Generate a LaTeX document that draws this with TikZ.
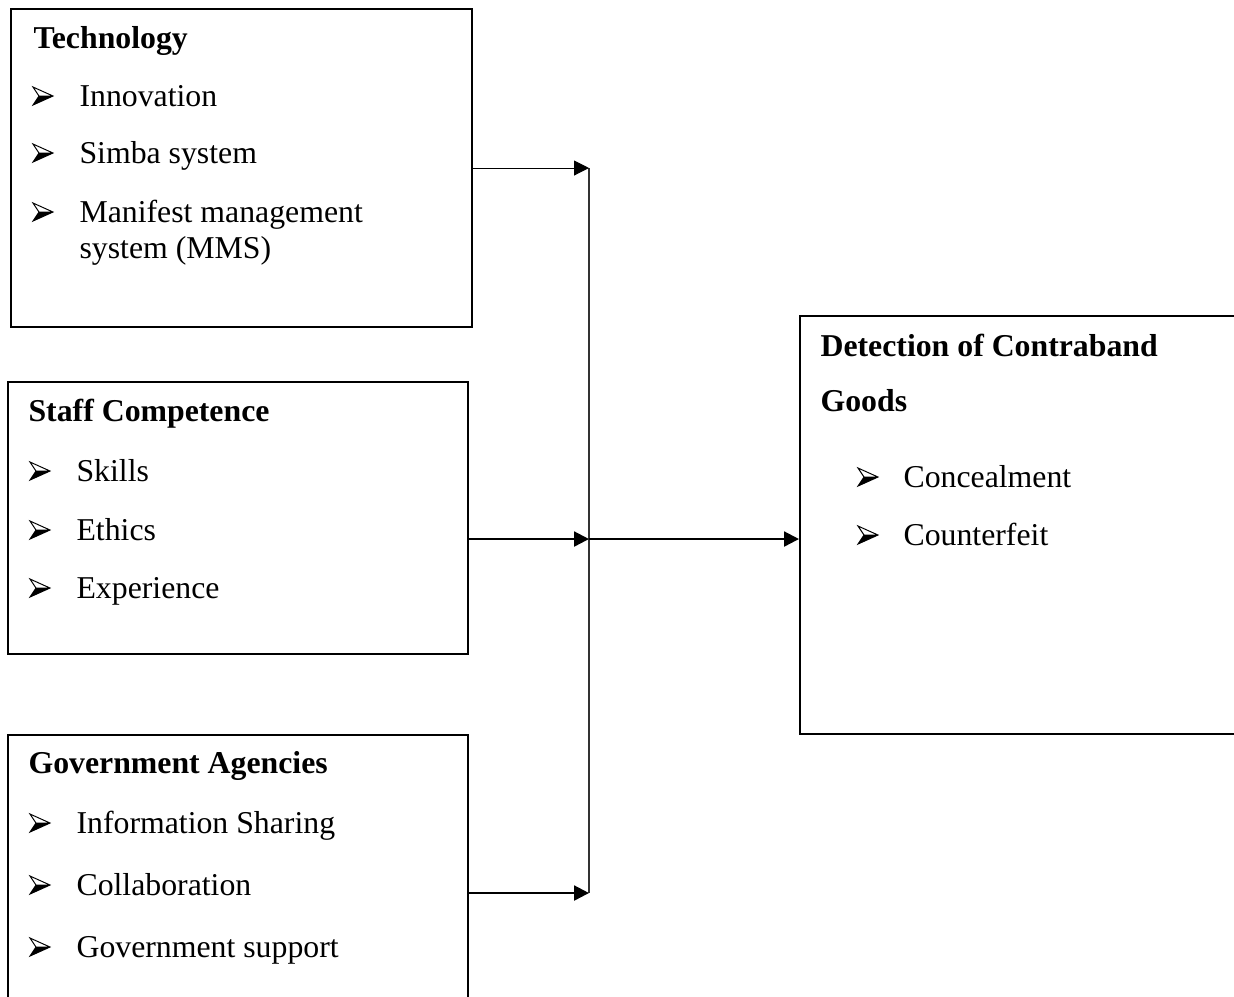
\documentclass[tikz,border=0pt]{standalone}
\usepackage{fontspec}
\setmainfont{Liberation Serif}
\usetikzlibrary{arrows.meta, positioning, calc}

\begin{document}
\begin{tikzpicture}[x=0.0125cm, y=-0.0125cm,
    box/.style={draw, line width=0.7pt, rectangle, anchor=north west, inner sep=0pt},
    head/.style={anchor=base west, inner sep=0pt, font=\fontsize{11.3}{14}\selectfont\bfseries},
    item/.style={anchor=base west, inner sep=0pt, font=\fontsize{11.3}{14}\selectfont},
    bul/.pic={
      \fill (1,-1) -- (21,-10) -- (7,-10) -- cycle;
      \draw[line width=0.35pt, line join=miter] (1,-19) -- (21,-10) -- (1,-1) -- (7,-10) -- cycle (7,-10) -- (21,-10);
    },
    arr/.style={-{Triangle[length=5.3pt, width=5.3pt]}}]
    \useasboundingbox (0,0) rectangle (1234,996);

    % boxes
    \node[box, minimum width=461*0.0125cm, minimum height=318*0.0125cm] (tech) at (10,8) {};
    \node[box, minimum width=460*0.0125cm, minimum height=272*0.0125cm] (staff) at (7,381) {};
    \node[box, minimum width=460*0.0125cm, minimum height=300*0.0125cm] (gov) at (7,734) {};
    \node[box, minimum width=480*0.0125cm, minimum height=418*0.0125cm] (detect) at (799,315) {};

    % technology
    \node[head] (techhead) at (33,48) {Technology};
    \pic (tb1) at (32,106) {bul};
    \node[item] (ti1) at (79,106) {Innovation};
    \pic (tb2) at (32,163) {bul};
    \node[item] (ti2) at (79,163) {Simba system};
    \pic (tb3) at (32,222) {bul};
    \node[item] (ti3) at (79,222) {Manifest management};
    \node[item] (ti3b) at (79,258) {system (MMS)};

    % staff competence
    \node[head] (staffhead) at (28,421) {Staff Competence};
    \pic (sb1) at (29,481) {bul};
    \node[item] (si1) at (76,481) {Skills};
    \pic (sb2) at (29,540) {bul};
    \node[item] (si2) at (76,540) {Ethics};
    \pic (sb3) at (29,598) {bul};
    \node[item] (si3) at (76,598) {Experience};

    % government agencies
    \node[head] (govhead) at (28,773) {Government Agencies};
    \pic (gb1) at (29,833) {bul};
    \node[item] (gi1) at (76,833) {Information Sharing};
    \pic (gb2) at (29,895) {bul};
    \node[item] (gi2) at (76,895) {Collaboration};
    \pic (gb3) at (29,957) {bul};
    \node[item] (gi3) at (76,957) {Government support};

    % detection
    \node[head] (dethead) at (820,356) {Detection of Contraband};
    \node[head] (dethead2) at (820,411) {Goods};
    \pic (db1) at (857,487) {bul};
    \node[item] (di1) at (903,487) {Concealment};
    \pic (db2) at (857,545) {bul};
    \node[item] (di2) at (903,545) {Counterfeit};

    % connectors
    \coordinate (j1) at (589,168);
    \coordinate (j2) at (589,539);
    \coordinate (j3) at (589,893);
    \draw[black!80, line width=0.6pt] (j1) -- (j3);
    \draw[arr, line width=0.35pt] (tech.east |- j1) -- (j1);
    \draw[arr, line width=0.8pt] (staff.east |- j2) -- (j2);
    \draw[arr, line width=0.8pt] (gov.east |- j3) -- (j3);
    \draw[arr, line width=0.8pt] (j2) -- (detect.west |- j2);
\end{tikzpicture}
\end{document}
